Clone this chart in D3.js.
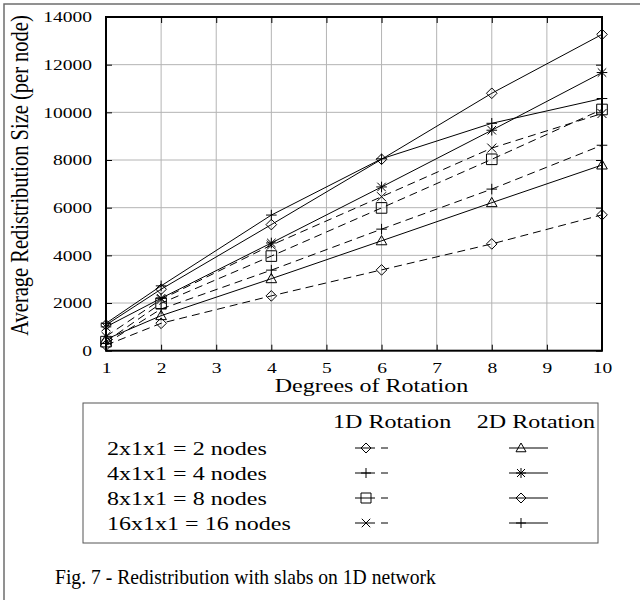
<!DOCTYPE html>
<html lang="en">
<head>
<meta charset="utf-8">
<title>Fig. 7 - Redistribution with slabs on 1D network</title>
<script src="https://d3js.org/d3.v7.min.js"></script>
<style>
  body { margin: 0; background: #fff; }
  text { font-family: "Liberation Serif", "Times New Roman", serif; fill: #000; }
  .grid line { stroke: #b4b4b4; stroke-width: 1; }
  .ticks line { stroke: #000; }
  .ticks path { display: none; }
  .series { fill: none; stroke: #000; stroke-width: 1; }
  .marker { fill: none; stroke: #000; stroke-width: 1; }
</style>
</head>
<body>
<div id="vis"></div>
<script>

// values (bytes per node)
const degrees = [1, 2, 4, 6, 8, 10];
const oneD2  = [230, 1150, 2300, 3390, 4480, 5700];
const oneD4  = [300, 1750, 3380, 5100, 6780, 8620];
const oneD8  = [380, 1990, 3970, 5990, 8030, 10120];
const oneD16 = [600, 2150, 4430, 6460, 8500, 9950];
const twoD2  = [480, 1470, 3020, 4610, 6210, 7790];
const twoD4  = [1000, 2200, 4520, 6870, 9250, 11670];
const twoD8  = [1080, 2580, 5290, 8030, 10800, 13270];
const twoD16 = [1150, 2720, 5690, 8050, 9540, 10580];

const nodeLabels = ["2x1x1 = 2 nodes", "4x1x1 = 4 nodes", "8x1x1 = 8 nodes", "16x1x1 = 16 nodes"];
const xTicks = [1, 2, 3, 4, 5, 6, 7, 8, 9, 10];
const yTicks = [0, 2000, 4000, 6000, 8000, 10000, 12000, 14000];

const width = 640;
const height = 600;
const plotLeft = 106, plotRight = 602, plotTop = 17, plotBottom = 350.7;
const sx = 1.3; // the scanned figure is stretched sideways

const series = [
  {values: oneD2,  marker: "diamond",  dashed: true},
  {values: oneD4,  marker: "plus",     dashed: true},
  {values: oneD8,  marker: "square",   dashed: true},
  {values: oneD16, marker: "cross",    dashed: true},
  {values: twoD2,  marker: "triangle", dashed: false},
  {values: twoD4,  marker: "star",     dashed: false},
  {values: twoD8,  marker: "diamond",  dashed: false},
  {values: twoD16, marker: "plus",     dashed: false}
];

const xScale = d3.scaleLinear().domain([1, 10]).range([plotLeft, plotRight]);
const yScale = d3.scaleLinear().domain([0, 14000]).range([plotBottom, plotTop]);

function markerPath(kind, r) {
  const p = d3.path();
  if (kind === "diamond") {
    p.moveTo(0, -r); p.lineTo(r, 0); p.lineTo(0, r); p.lineTo(-r, 0); p.closePath();
  } else if (kind === "square") {
    p.rect(-r, -r, 2 * r, 2 * r);
  } else if (kind === "triangle") {
    p.moveTo(0, -r); p.lineTo(r, r * 0.75); p.lineTo(-r, r * 0.75); p.closePath();
  } else if (kind === "plus") {
    p.moveTo(-r, 0); p.lineTo(r, 0); p.moveTo(0, -r); p.lineTo(0, r);
  } else if (kind === "cross") {
    const c = r * 0.85;
    p.moveTo(-c, -c); p.lineTo(c, c); p.moveTo(-c, c); p.lineTo(c, -c);
  } else if (kind === "star") {
    const c = r * 0.8;
    p.moveTo(-r, 0); p.lineTo(r, 0); p.moveTo(0, -r); p.lineTo(0, r);
    p.moveTo(-c, -c); p.lineTo(c, c); p.moveTo(-c, c); p.lineTo(c, -c);
  }
  return p.toString();
}

const svg = d3.select("#vis")
              .append("svg")
              .attr("width", width)
              .attr("height", height);

// page frame (only top and left edges survive the crop)
svg.append("path")
   .attr("d", "M4,600 V4 H640")
   .attr("fill", "none")
   .attr("stroke", "#6e6e6e")
   .attr("stroke-width", 1.5);

// grid
const grid = svg.append("g").attr("class", "grid");
grid.selectAll(".vx")
    .data(xTicks.slice(1, -1))
    .enter().append("line")
    .attr("x1", d => xScale(d)).attr("x2", d => xScale(d))
    .attr("y1", plotTop).attr("y2", plotBottom);
grid.selectAll(".hy")
    .data(yTicks.slice(1, -1))
    .enter().append("line")
    .attr("x1", plotLeft).attr("x2", plotRight)
    .attr("y1", d => yScale(d)).attr("y2", d => yScale(d));

// ticks on all four sides, pointing in
svg.append("g")
   .attr("class", "ticks")
   .attr("transform", "translate(0," + plotBottom + ")")
   .call(d3.axisBottom(xScale).tickValues(xTicks).tickSizeInner(-6).tickSizeOuter(0)
           .tickPadding(12).tickFormat(d3.format("d")));

svg.append("g")
   .attr("class", "ticks")
   .attr("transform", "translate(" + plotLeft + ",0)")
   .call(d3.axisLeft(yScale).tickValues(yTicks).tickSizeInner(-6).tickSizeOuter(0)
           .tickPadding(10.8).tickFormat(d3.format("d")));

svg.append("g")
   .attr("class", "ticks")
   .attr("transform", "translate(0," + plotTop + ")")
   .call(d3.axisTop(xScale).tickValues(xTicks).tickSizeInner(-6).tickSizeOuter(0).tickFormat(""));

svg.append("g")
   .attr("class", "ticks")
   .attr("transform", "translate(" + plotRight + ",0)")
   .call(d3.axisRight(yScale).tickValues(yTicks).tickSizeInner(-6).tickSizeOuter(0).tickFormat(""));

svg.selectAll(".ticks text")
   .style("font-size", "15px")
   .attr("transform", "scale(" + sx + ",1)");

// plot frame
svg.append("rect")
   .attr("x", plotLeft).attr("y", plotTop)
   .attr("width", plotRight - plotLeft).attr("height", plotBottom - plotTop)
   .attr("fill", "none")
   .attr("stroke", "#000")
   .attr("stroke-width", 2);

const line = d3.line()
               .x((d, i) => xScale(degrees[i]))
               .y(d => yScale(d));

svg.selectAll(".series")
   .data(series)
   .enter().append("path")
   .attr("class", "series")
   .attr("d", d => line(d.values))
   .attr("stroke-dasharray", d => d.dashed ? "8,5" : null);

series.forEach(s => {
  svg.selectAll(null)
     .data(s.values)
     .enter().append("path")
     .attr("class", "marker")
     .attr("transform", (d, i) => "translate(" + xScale(degrees[i]) + "," + yScale(d) + ")")
     .attr("d", markerPath(s.marker, 5.3));
});

// axis titles
svg.append("text")
   .attr("transform", "translate(28,175.5) rotate(-90) scale(1,1.2)")
   .attr("text-anchor", "middle")
   .style("font-size", "20.5px")
   .text("Average Redistribution Size (per node)");

svg.append("text")
   .attr("transform", "translate(371.5,392) scale(" + sx + ",1)")
   .attr("text-anchor", "middle")
   .style("font-size", "18.5px")
   .text("Degrees of Rotation");

// legend
const legend = svg.append("g");
legend.append("rect")
      .attr("x", 83).attr("y", 403)
      .attr("width", 515).attr("height", 140)
      .attr("fill", "none")
      .attr("stroke", "#555")
      .attr("stroke-width", 1);

legend.append("text")
      .attr("transform", "translate(333,428) scale(" + sx + ",1)")
      .style("font-size", "18.5px")
      .text("1D Rotation");
legend.append("text")
      .attr("transform", "translate(595,428) scale(" + sx + ",1)")
      .attr("text-anchor", "end")
      .style("font-size", "18.5px")
      .text("2D Rotation");

nodeLabels.forEach((label, i) => {
  const cy = 448 + i * 25;
  legend.append("text")
        .attr("transform", "translate(107," + (cy + 6.5) + ") scale(" + sx + ",1)")
        .style("font-size", "18.5px")
        .text(label);

  const d1 = series[i], d2 = series[i + 4];
  legend.append("line")
        .attr("class", "series")
        .attr("x1", 355).attr("x2", 388).attr("y1", cy).attr("y2", cy)
        .attr("stroke-dasharray", "20,6");
  legend.append("path")
        .attr("class", "marker")
        .attr("transform", "translate(366," + cy + ")")
        .attr("d", markerPath(d1.marker, 5));

  legend.append("line")
        .attr("class", "series")
        .attr("x1", 509).attr("x2", 548).attr("y1", cy).attr("y2", cy);
  legend.append("path")
        .attr("class", "marker")
        .attr("transform", "translate(521," + cy + ")")
        .attr("d", markerPath(d2.marker, 5));
});

// caption (narrower face than the figure text)
svg.append("text")
   .attr("transform", "translate(55,584) scale(0.935,1)")
   .style("font-size", "21px")
   .text("Fig. 7 - Redistribution with slabs on 1D network");

</script>
</body>
</html>
